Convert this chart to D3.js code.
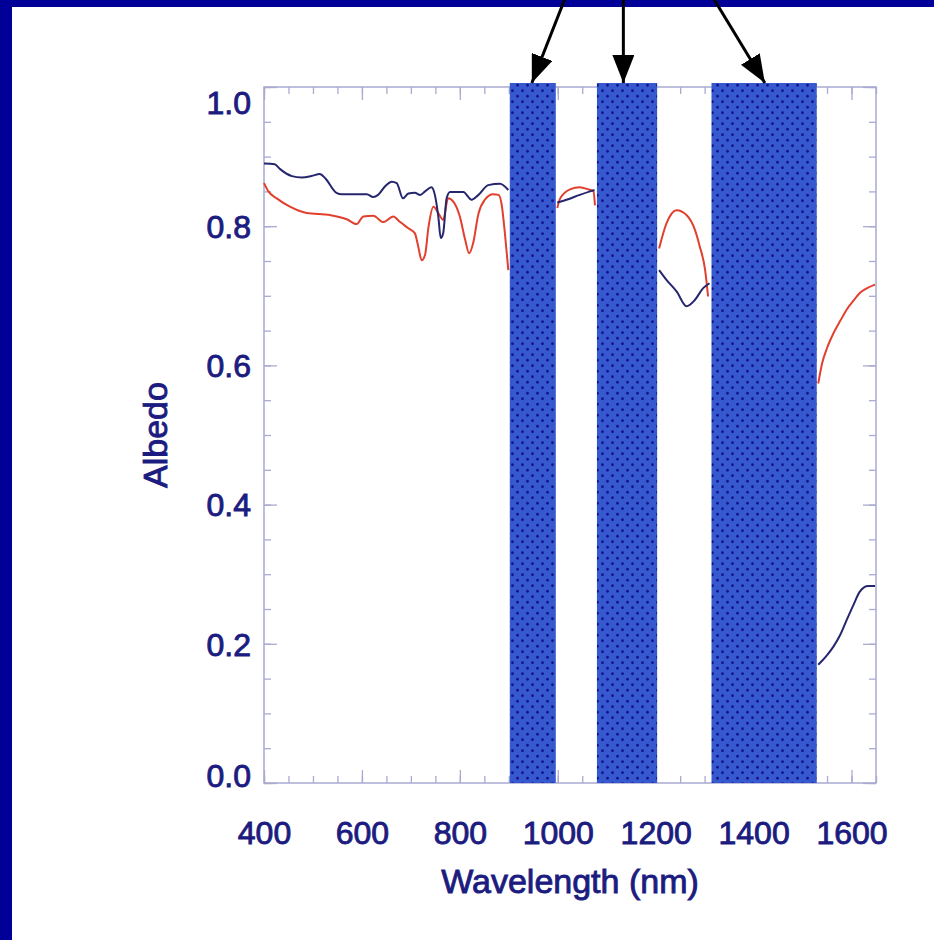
<!DOCTYPE html>
<html>
<head>
<meta charset="utf-8">
<script src="https://cdn.jsdelivr.net/npm/d3@7"></script>
<style>
  body { margin: 0; background: #fff; }
  text { font-family: "Liberation Sans", Arial, sans-serif; }
</style>
</head>
<body>
<svg id="chart" width="934" height="940"></svg>
<script>
// wavelength (nm) / albedo, null = gap hidden by an absorption band
let navyWl  = [400,422,433,457,477,497,514,525,548,559,610,623,633,647,661,671,684,695,708,719,729,742,749,756,761,766,773,780,807,824,838,858,882,899,
               null,
               999,1018,1045,1066,1075,
               null,
               1207,1222,1243,1263,1280,1297,1310,
               null,
               1532,1548,1563,1577,1590,1604,1617,1634,1648];
let navyAlb = [0.890,0.889,0.882,0.872,0.870,0.872,0.875,0.869,0.848,0.846,0.846,0.842,0.845,0.857,0.864,0.862,0.840,0.847,0.848,0.845,0.850,0.856,0.845,0.814,0.783,0.790,0.840,0.849,0.849,0.838,0.845,0.859,0.861,0.852,
               null,
               0.834,0.838,0.845,0.850,0.852,
               null,
               0.737,0.723,0.706,0.685,0.694,0.711,0.718,
               null,
               0.170,0.182,0.196,0.213,0.234,0.256,0.275,0.283,0.283];

let redWl  = [400,409,426,453,487,535,569,589,603,623,644,664,678,695,708,715,722,729,736,746,756,766,776,787,800,811,819,827,838,851,868,879,885,892,899,
              null,
              999,1005,1025,1045,1062,1073,1076,
              null,
              1207,1222,1243,1263,1280,1290,1301,1307,
              null,
              1532,1540,1550,1563,1577,1590,1604,1617,1632,1648];
let redAlb = [0.862,0.850,0.840,0.828,0.819,0.816,0.810,0.803,0.814,0.815,0.806,0.814,0.806,0.797,0.790,0.771,0.751,0.759,0.799,0.828,0.819,0.809,0.840,0.835,0.814,0.780,0.761,0.775,0.818,0.838,0.846,0.845,0.833,0.790,0.737,
              null,
              0.826,0.840,0.853,0.856,0.853,0.850,0.830,
              null,
              0.768,0.804,0.823,0.816,0.795,0.771,0.737,0.699,
              null,
              0.574,0.603,0.625,0.646,0.664,0.680,0.693,0.704,0.711,0.716];

// absorption bands [start, end] in nm
let bandStart = [902, 1080, 1314];
let bandEnd   = [996, 1203, 1529];
let arrowTargets = [947, 1134, 1423];
let arrowSource = 1134;

let xMajor = [400, 600, 800, 1000, 1200, 1400, 1600];
let yMajor = [0, 0.2, 0.4, 0.6, 0.8, 1.0];

let svg = d3.select("#chart");
let navyBg = "#000099";
let ink = "#1c1c80";
let frame = "#a9a9d2";

// page border
svg.append("rect").attr("width", 934).attr("height", 940).attr("fill", navyBg);
svg.append("rect").attr("x", 12).attr("y", 7).attr("width", 922).attr("height", 933).attr("fill", "#fff");

let pl = 264, pr = 876, pt = 87, pb = 783;
let x = d3.scaleLinear().domain([400, 1650]).range([pl, pr]);
let y = d3.scaleLinear().domain([0, 1]).range([pb, pt]);

// dotted fill
let defs = svg.append("defs");
let pat = defs.append("pattern").attr("id", "dots")
  .attr("patternUnits", "userSpaceOnUse").attr("width", 10).attr("height", 11);
pat.append("rect").attr("width", 10).attr("height", 11).attr("fill", "#3659d0");
pat.append("circle").attr("cx", 2.5).attr("cy", 2.75).attr("r", 1.4).attr("fill", "#14148c");
pat.append("circle").attr("cx", 7.5).attr("cy", 8.25).attr("r", 1.4).attr("fill", "#14148c");

defs.append("marker").attr("id", "head")
  .attr("markerUnits", "userSpaceOnUse")
  .attr("viewBox", "0 0 28 22").attr("markerWidth", 28).attr("markerHeight", 22)
  .attr("refX", 28).attr("refY", 11).attr("orient", "auto")
  .append("path").attr("d", "M0,0L28,11L0,22Z").attr("fill", "#000");

// frame
svg.append("rect").attr("x", pl).attr("y", pt)
  .attr("width", pr - pl).attr("height", pb - pt)
  .attr("fill", "none").attr("stroke", frame).attr("stroke-width", 1.5);

function tickAxis(axis, pos, vals, size) {
  let g = svg.append("g").attr("transform", pos)
    .call(axis.tickValues(vals).tickSize(size).tickFormat(""));
  g.select(".domain").remove();
  g.selectAll("line").attr("stroke", frame).attr("stroke-width", 1.3);
}
let xMinor = d3.range(400, 1651, 50);
let yMinor = d3.range(0, 1.001, 0.05);
tickAxis(d3.axisBottom(x), `translate(0,${pb})`, xMinor, -7);
tickAxis(d3.axisBottom(x), `translate(0,${pb})`, xMajor, -13);
tickAxis(d3.axisTop(x), `translate(0,${pt})`, xMinor, -7);
tickAxis(d3.axisTop(x), `translate(0,${pt})`, xMajor, -13);
tickAxis(d3.axisLeft(y), `translate(${pl},0)`, yMinor, -7);
tickAxis(d3.axisLeft(y), `translate(${pl},0)`, yMajor, -13);
tickAxis(d3.axisRight(y), `translate(${pr},0)`, yMinor, -7);
tickAxis(d3.axisRight(y), `translate(${pr},0)`, yMajor, -13);

// data lines
let line = d3.line()
  .defined(d => d[0] !== null)
  .x(d => x(d[0])).y(d => y(d[1]))
  .curve(d3.curveMonotoneX);

svg.append("path").datum(d3.zip(redWl, redAlb))
  .attr("d", line).attr("fill", "none").attr("stroke", "#e2402e").attr("stroke-width", 2);
svg.append("path").datum(d3.zip(navyWl, navyAlb))
  .attr("d", line).attr("fill", "none").attr("stroke", "#26266e").attr("stroke-width", 2);

// absorption bands
let bandTop = y(1) - 4;
svg.selectAll(".band").data(d3.zip(bandStart, bandEnd)).join("rect")
  .attr("class", "band")
  .attr("x", d => x(d[0])).attr("width", d => x(d[1]) - x(d[0]))
  .attr("y", bandTop).attr("height", y(0) - bandTop)
  .attr("fill", "url(#dots)");

// arrows from the (cropped) label above
let srcY = -150;
svg.selectAll(".arrow").data(arrowTargets).join("line")
  .attr("class", "arrow")
  .attr("x1", x(arrowSource)).attr("y1", srcY)
  .attr("x2", d => x(d)).attr("y2", bandTop)
  .attr("stroke", "#000").attr("stroke-width", 3)
  .attr("marker-end", "url(#head)");

// tick labels
function inkText(sel, size) {
  sel.attr("font-size", size).attr("fill", ink)
    .attr("stroke", ink).attr("stroke-width", 0.9)
    .attr("font-family", "Liberation Sans, Arial, sans-serif");
}
let xl = svg.append("g").attr("transform", `translate(0,${pb})`)
  .call(d3.axisBottom(x).tickValues(xMajor).tickSize(0).tickPadding(38).tickFormat(d3.format("d")));
xl.select(".domain").remove();
xl.selectAll("text").call(inkText, 32);

let yl = svg.append("g").attr("transform", `translate(${pl},0)`)
  .call(d3.axisLeft(y).tickValues(yMajor).tickSize(0).tickPadding(13).tickFormat(d3.format(".1f")));
yl.select(".domain").remove();
yl.selectAll("text").call(inkText, 32)
  .attr("dy", d => d === 1 ? "0.82em" : d === 0 ? "0.12em" : "0.35em");

// titles
svg.append("text").attr("x", (pl + pr) / 2).attr("y", 893)
  .attr("text-anchor", "middle").call(inkText, 34)
  .text("Wavelength (nm)");
svg.append("text").attr("transform", `translate(167,${(pt + pb) / 2}) rotate(-90)`)
  .attr("text-anchor", "middle").call(inkText, 34)
  .text("Albedo");
</script>
</body>
</html>
